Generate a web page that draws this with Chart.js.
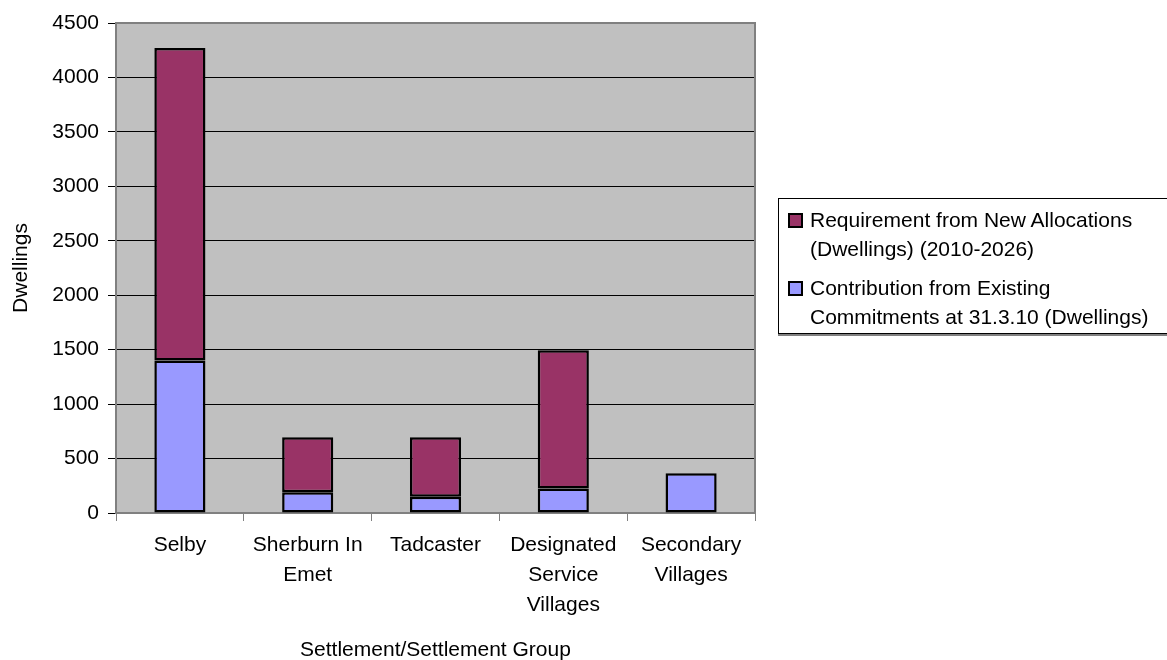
<!DOCTYPE html>
<html>
<head>
<meta charset="utf-8">
<script src="https://cdn.jsdelivr.net/npm/chart.js@4/dist/chart.umd.min.js"></script>
<style>
    body { margin: 0; background: #fff; }
    #wrap { position: relative; width: 1167px; height: 660px; overflow: hidden; }
    #legend {
        position: absolute; left: 778px; top: 198px; width: 400px; height: 136px;
        border: 1px solid #000; box-shadow: 0 2px 0 #808080; background: #fff;
        font-family: "Liberation Sans", Arial, sans-serif; font-size: 21px; line-height: 29px;
        box-sizing: border-box;
    }
    .item { position: absolute; left: 31px; white-space: nowrap; }
    .swatch { position: absolute; left: -22px; top: 8px; width: 11px; height: 11px; border: 2px solid #000; }
</style>
</head>
<body>
<div id="wrap">
    <canvas id="chart"></canvas>
    <div id="legend"></div>
</div>
<script>
const categories = ["Selby", ["Sherburn In", "Emet"], "Tadcaster", ["Designated", "Service", "Villages"], ["Secondary", "Villages"]];
const existingCommitments = [1400, 190, 150, 225, 365];
const newAllocations = [2870, 505, 545, 1270, null];
const seriesNames = [
    ["Requirement from New  Allocations", "(Dwellings) (2010-2026)"],
    ["Contribution from Existing", "Commitments at 31.3.10 (Dwellings)"]
];
const seriesColors = ["#993366", "#9999FF"];

Chart.defaults.font.family = "'Liberation Sans', Arial, sans-serif";
Chart.defaults.font.size = 21;
Chart.defaults.color = "#000";

// grey plot area with its frame
const plotBackground = {
    id: "plotBackground",
    beforeDraw(chart) {
        const { ctx, chartArea: a } = chart;
        ctx.save();
        ctx.fillStyle = "#C0C0C0";
        ctx.fillRect(a.left, a.top, a.right - a.left, a.bottom - a.top);
        ctx.restore();
    },
    beforeDatasetsDraw(chart) {
        const { ctx, chartArea: a } = chart;
        ctx.save();
        ctx.strokeStyle = "#808080";
        ctx.lineWidth = 2;
        ctx.strokeRect(a.left, a.top, a.right - a.left, a.bottom - a.top);
        ctx.restore();
    }
};

const ctx = document.getElementById("chart").getContext("2d");
new Chart(ctx, {
    type: "bar",
    data: {
        labels: categories,
        datasets: [
            {
                label: seriesNames[1].join(" "),
                data: existingCommitments,
                backgroundColor: seriesColors[1],
                borderColor: "#000",
                borderWidth: 2.5,
                borderSkipped: false,
                categoryPercentage: 1,
                barPercentage: 0.4,
            },
            {
                label: seriesNames[0].join(" "),
                data: newAllocations,
                backgroundColor: seriesColors[0],
                borderColor: "#000",
                borderWidth: 2.5,
                borderSkipped: false,
                categoryPercentage: 1,
                barPercentage: 0.4,
            },
        ],
    },
    options: {
        responsive: true,
        maintainAspectRatio: false,
        animation: false,
        layout: { padding: { top: 23, right: 412, left: 0, bottom: 0 } },
        plugins: {
            legend: { display: false },
            tooltip: { enabled: false },
        },
        scales: {
            x: {
                stacked: true,
                afterFit: (scale) => { scale.height = 147; },
                grid: {
                    offset: true,
                    drawOnChartArea: false,
                    drawTicks: true,
                    tickLength: 8,
                    color: "#808080",
                    lineWidth: 1,
                },
                border: { color: "#808080", width: 2 },
                ticks: {
                    autoSkip: false,
                    maxRotation: 0,
                    padding: 9,
                    font: { size: 21, lineHeight: 30 / 21 },
                },
                title: {
                    display: true,
                    text: "Settlement/Settlement Group",
                    padding: 0,
                    font: { size: 21, lineHeight: 0.9 },
                },
            },
            y: {
                stacked: true,
                min: 0,
                max: 4500,
                afterFit: (scale) => { scale.width = 116; },
                grid: {
                    color: "#000",
                    lineWidth: 1,
                    drawTicks: true,
                    tickLength: 8,
                },
                border: { color: "#808080", width: 2 },
                ticks: {
                    stepSize: 500,
                    padding: 9,
                    callback: (v) => String(v),
                },
                title: {
                    display: true,
                    text: "Dwellings",
                    padding: { top: 9, bottom: 0 },
                    font: { size: 21 },
                },
            },
        },
    },
    plugins: [plotBackground],
});

// legend box on the right, built from the series names
const legend = document.getElementById("legend");
const itemTops = [6, 74];
seriesNames.forEach((lines, i) => {
    const item = document.createElement("div");
    item.className = "item";
    item.style.top = itemTops[i] + "px";
    const sw = document.createElement("span");
    sw.className = "swatch";
    sw.style.background = seriesColors[i];
    item.appendChild(sw);
    lines.forEach((t, j) => {
        if (j > 0) item.appendChild(document.createElement("br"));
        item.appendChild(document.createTextNode(t));
    });
    legend.appendChild(item);
});
</script>
</body>
</html>
